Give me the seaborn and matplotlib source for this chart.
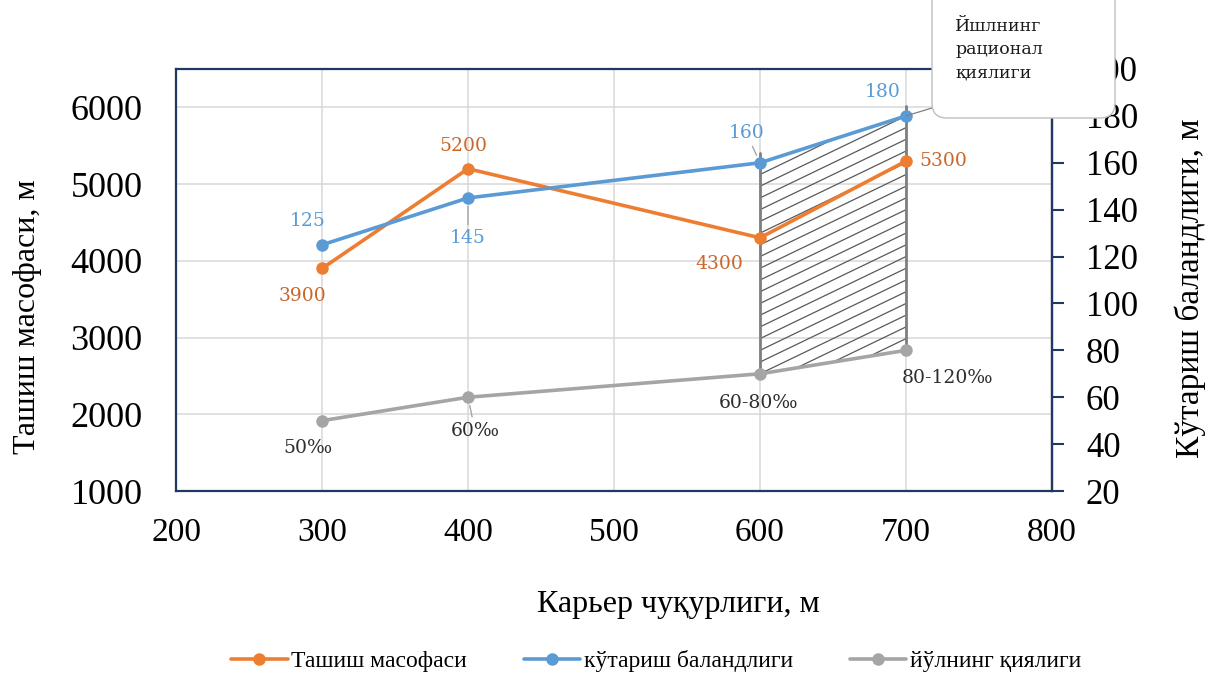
import numpy as np
import matplotlib
matplotlib.use("Agg")
import matplotlib.pyplot as plt
import seaborn as sns
from matplotlib.patches import Polygon, FancyBboxPatch, ConnectionPatch

# ---- data -------------------------------------------------------------
depth = [300, 400, 600, 700]                 # карьер чуқурлиги, м
haul_distance = [3900, 5200, 4300, 5300]     # ташиш масофаси, м
lift_height = [125, 145, 160, 180]           # кўтариш баландлиги, м
road_grade = [50, 60, 70, 80]                # йўлнинг қиялиги (plotted on right axis)
grade_labels = ["50‰", "60‰", "60-80‰", "80-120‰"]

series_names = ["Ташиш масофаси", "кўтариш баландлиги", "йўлнинг қиялиги"]
x_title = "Карьер чуқурлиги, м"
y_left_title = "Ташиш масофаси, м"
y_right_title = "Кўтариш баландлиги, м"
callout_text = "Йшлнинг\nрационал\nқиялиги"

x_ticks = list(range(200, 801, 100))
left_ticks = list(range(1000, 6001, 1000))
right_ticks = list(range(20, 201, 20))

# ---- style ------------------------------------------------------------
ORANGE = "#ED7D31"
BLUE = "#5B9BD5"
GRAY = "#A5A5A5"
NAVY = "#1F3864"
ORANGE_TXT = "#C9672A"
BLUE_TXT = "#5B9BD5"
DARK_TXT = "#2E2E2E"

sns.set_style("white")
plt.rcParams["font.family"] = ["Liberation Serif", "DejaVu Serif"]
plt.rcParams["text.color"] = "black"
plt.rcParams["axes.labelcolor"] = "black"
plt.rcParams["xtick.color"] = "black"
plt.rcParams["ytick.color"] = "black"

fig = plt.figure(figsize=(12.08, 6.73), dpi=100)
ax1 = fig.add_axes([0.1457, 0.2704, 0.7252, 0.6271])
ax2 = ax1.twinx()

line_kw = dict(linewidth=2.6, marker="o", markersize=9, markeredgewidth=0)
sns.lineplot(x=depth, y=haul_distance, ax=ax1, color=ORANGE,
             label=series_names[0], zorder=4, **line_kw)
sns.lineplot(x=depth, y=lift_height, ax=ax2, color=BLUE,
             label=series_names[1], zorder=4, **line_kw)
sns.lineplot(x=depth, y=road_grade, ax=ax2, color=GRAY,
             label=series_names[2], zorder=3, **line_kw)

h1, l1 = ax1.get_legend_handles_labels()
h2, l2 = ax2.get_legend_handles_labels()
for a in (ax1, ax2):
    if a.get_legend() is not None:
        a.get_legend().remove()

# ---- axes -------------------------------------------------------------
ax1.set_xlim(200, 800)
ax1.set_ylim(1000, 6500)
ax2.set_ylim(20, 200)
ax1.set_xticks(x_ticks)
ax1.set_yticks(left_ticks)
ax2.set_yticks(right_ticks)

ax1.grid(True, color="#D9D9D9", linewidth=1.1)
ax1.set_axisbelow(True)

for s in ax1.spines.values():
    s.set_color(NAVY)
    s.set_linewidth(1.6)
for name, s in ax2.spines.items():
    s.set_visible(name == "right")
    s.set_color(NAVY)
    s.set_linewidth(1.6)

ax1.tick_params(axis="x", length=0, pad=19, labelsize=24)
ax1.tick_params(axis="y", length=0, pad=24, labelsize=26)
ax2.tick_params(axis="y", direction="out", length=8.4, width=1.5,
                color=NAVY, labelcolor="black", pad=16, labelsize=25)

ax1.set_xlabel(x_title, fontsize=23)
ax1.xaxis.set_label_coords(0.574, -0.2346)
ax1.set_ylabel(y_left_title, fontsize=23, va="center")
ax1.yaxis.set_label_coords(-0.169, 0.412)
ax2.set_ylabel(y_right_title, fontsize=24, va="center", rotation=90)
ax2.yaxis.set_label_coords(1.1575, 0.481)

# ---- hatched zone between 600 and 700 m --------------------------------
zx = depth[2:]
z_low = road_grade[2:]
z_high = lift_height[2:]
zone = Polygon([(zx[0], z_low[0]), (zx[1], z_low[1]),
                (zx[1], z_high[1]), (zx[0], z_high[0])],
               closed=True, facecolor="none", edgecolor="none",
               transform=ax2.transData)
ax1.add_patch(zone)

hatch_slope = 0.30     # right-axis units per metre of depth
hatch_step = 5.0       # vertical spacing of hatch lines
c_start = min(z_low) - hatch_slope * (zx[1] - zx[0]) - hatch_step
c_stop = max(z_high) + hatch_step
for c in np.arange(c_start, c_stop, hatch_step):
    hx = np.array([zx[0], zx[1]])
    hy = c + hatch_slope * (hx - zx[0])
    ln, = ax1.plot(hx, hy, color="#595959", linewidth=0.9,
                   transform=ax2.transData, zorder=2)
    ln.set_clip_path(zone)

for xv, lo, hi in zip(zx, z_low, z_high):
    ax1.plot([xv, xv], [lo, hi + 4], color="#7F7F7F", linewidth=2.0,
             transform=ax2.transData, zorder=2)

# ---- data labels -------------------------------------------------------
lab_font = dict(family=["DejaVu Serif"], fontsize=13.5)
lead = dict(arrowstyle="-", color="#A6A6A6", linewidth=1.0,
            shrinkA=1, shrinkB=6)

orange_off = [(-13.7, -20), (-3.6, 16.5), (-29.5, -18.7), (27, 0)]
for xv, yv, off in zip(depth, haul_distance, orange_off):
    ax1.annotate(f"{yv}", (xv, yv), xytext=off, textcoords="offset points",
                 ha="center", va="center", color=ORANGE_TXT, zorder=6,
                 **lab_font)

blue_off = [(-10, 17), (0, -29), (-10, 21.6), (-16.5, 17)]
blue_lead = [False, True, True, False]
for xv, yv, off, ld in zip(depth, lift_height, blue_off, blue_lead):
    ax2.annotate(f"{yv}", (xv, yv), xytext=off, textcoords="offset points",
                 ha="center", va="center", color=BLUE_TXT, zorder=6,
                 arrowprops=lead if ld else None, **lab_font)

gray_off = [(-10, -19.5), (5, -24), (-1.4, -21), (30, -20)]
gray_lead = [False, True, False, False]
for xv, yv, txt, off, ld in zip(depth, road_grade, grade_labels, gray_off, gray_lead):
    ax2.annotate(txt, (xv, yv), xytext=off, textcoords="offset points",
                 ha="center", va="center", color=DARK_TXT, zorder=6,
                 arrowprops=lead if ld else None, **lab_font)

# ---- callout -----------------------------------------------------------
box = FancyBboxPatch((9.32, 5.55), 1.83, 1.45,
                     boxstyle="round,pad=0,rounding_size=0.15",
                     transform=fig.dpi_scale_trans, facecolor="white",
                     edgecolor="#BFBFBF", linewidth=1.0, zorder=20)
fig.add_artist(box)
fig.text(9.55, 6.55, callout_text, transform=fig.dpi_scale_trans,
         ha="left", va="top", fontsize=12.5, linespacing=1.5,
         family=["DejaVu Serif"], color="#1A1A1A", zorder=21)
pointer = ConnectionPatch(xyA=(depth[-1], lift_height[-1]), coordsA=ax2.transData,
                          xyB=(9.32, 5.65), coordsB=fig.dpi_scale_trans,
                          color="#7F7F7F", linewidth=0.9, zorder=19)
fig.add_artist(pointer)

# ---- legend ------------------------------------------------------------
fig.legend(h1 + h2, l1 + l2, loc="center", bbox_to_anchor=(0.543, 0.018),
           ncol=3, frameon=False, fontsize=17, handlelength=2.4,
           handletextpad=0.15, columnspacing=2.4)

fig.savefig("out.png", dpi=100)
